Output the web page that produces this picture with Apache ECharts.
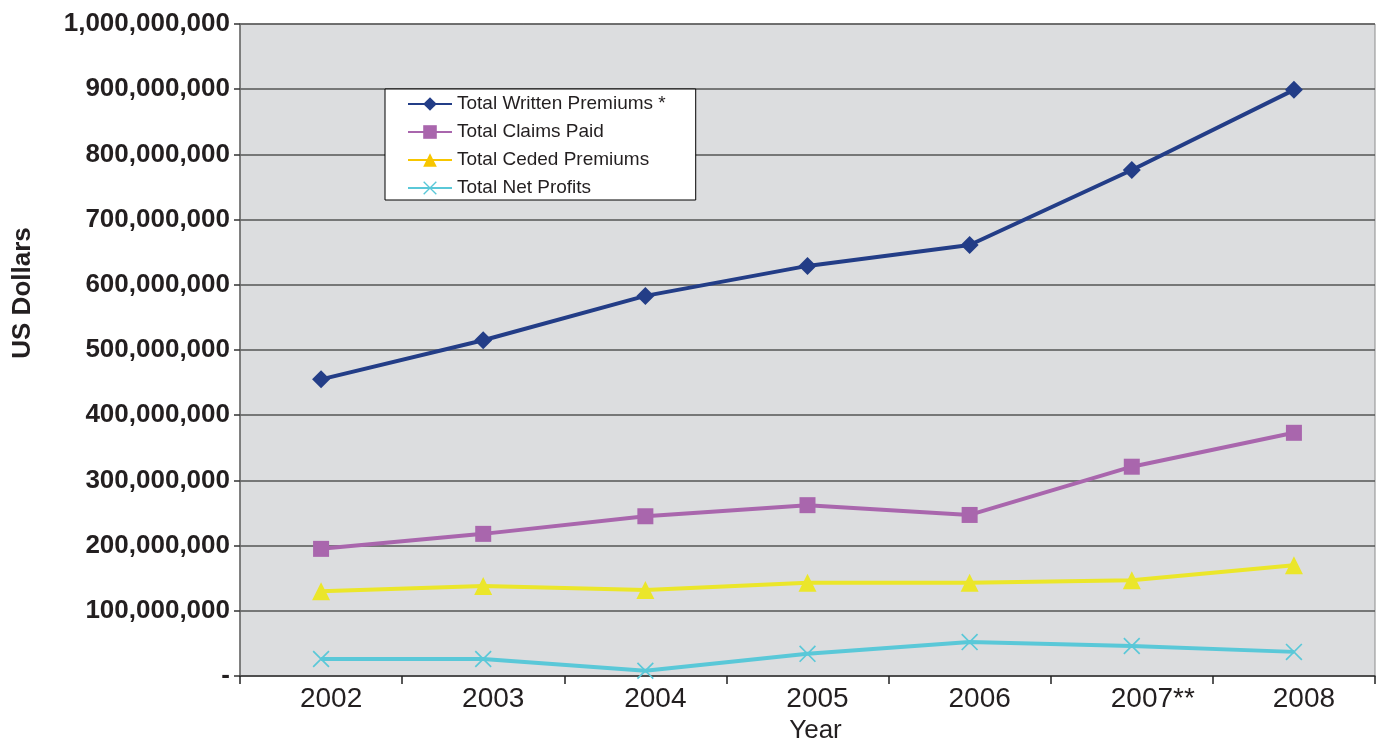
<!DOCTYPE html>
<html>
<head>
<meta charset="utf-8">
<script src="https://cdn.jsdelivr.net/npm/echarts@6/dist/echarts.min.js"></script>
<style>
  html, body { margin: 0; padding: 0; background: #ffffff; }
  #chart { width: 1378px; height: 745px; }
</style>
</head>
<body>
<div id="chart"></div>
<script>
// Years on the horizontal axis
const years = ['2002', '2003', '2004', '2005', '2006', '2007**', '2008'];

// Annual totals in US dollars
const writtenPremiums = [455000000, 515000000, 583000000, 629000000, 661000000, 776000000, 899000000];
const claimsPaid      = [195000000, 218000000, 245000000, 262000000, 247000000, 321000000, 373000000];
const cededPremiums   = [130000000, 138000000, 132000000, 143000000, 143000000, 147000000, 170000000];
const netProfits      = [26000000, 26000000, 8000000, 34000000, 52000000, 46000000, 37000000];

const seriesNames = ['Total Written Premiums *', 'Total Claims Paid', 'Total Ceded Premiums', 'Total Net Profits'];

const FONT = '"Liberation Sans", Arial, Helvetica, sans-serif';
const TEXT = '#231f20';

// thin diagonal cross used for the net profit points
const crossPath = 'path://M0,1.4L1.4,0L20,18.6L18.6,20Z M18.6,0L20,1.4L1.4,20L0,18.6Z';

function money(v) {
  if (v === 0) return '-';
  return Math.round(v).toString().replace(/\B(?=(\d{3})+(?!\d))/g, ',');
}

// year labels sit slightly right of the category centre, starred ones keep the digits in place
function yearLabel(v) {
  return v.indexOf('*') >= 0 ? '{wide|' + v + '}' : '{yr|' + v + '}';
}

function lineSeries(name, data, color, symbol, size) {
  return {
    name: name,
    type: 'line',
    data: data,
    symbol: symbol,
    symbolSize: size,
    showSymbol: true,
    lineStyle: { color: color, width: 4 },
    itemStyle: { color: color, borderWidth: 0 },
    emphasis: { disabled: true },
    z: 3
  };
}

const chart = echarts.init(document.getElementById('chart'), null, { renderer: 'canvas' });

chart.setOption({
  animation: false,
  backgroundColor: '#ffffff',
  grid: {
    left: 240, right: 3, top: 24, bottom: 69,
    outerBoundsMode: 'none',
    containLabel: false,
    show: true,
    backgroundColor: '#dcdddf',
    borderColor: '#8c8c8c',
    borderWidth: 1
  },
  legend: {
    left: 385, top: 89,
    orient: 'vertical',
    backgroundColor: '#ffffff',
    borderColor: '#000000',
    borderWidth: 1,
    borderRadius: 0,
    padding: [5, 30, 2, 22],
    itemGap: 8,
    itemWidth: 44,
    itemHeight: 17,
    textStyle: { fontFamily: FONT, fontSize: 19, lineHeight: 20, color: TEXT },
    data: [
      { name: seriesNames[0] },
      { name: seriesNames[1] },
      { name: seriesNames[2], itemStyle: { color: '#f7c600' }, lineStyle: { color: '#f7c600' } },
      { name: seriesNames[3] }
    ]
  },
  xAxis: {
    type: 'category',
    data: years,
    boundaryGap: true,
    name: 'Year',
    nameLocation: 'middle',
    nameGap: 41,
    nameTextStyle: { fontFamily: FONT, fontSize: 26, color: TEXT, padding: [0, 0, 0, 16] },
    axisLine: { show: true, lineStyle: { color: '#444444', width: 1.5 } },
    axisTick: { show: true, interval: 0, length: 8, lineStyle: { color: '#222222', width: 1.5 } },
    axisLabel: {
      color: TEXT, margin: 9,
      formatter: yearLabel,
      rich: {
        yr: { fontFamily: FONT, fontSize: 28, color: TEXT, padding: [0, 0, 0, 20] },
        wide: { fontFamily: FONT, fontSize: 28, color: TEXT, padding: [0, 0, 0, 42] }
      }
    },
    splitLine: { show: false }
  },
  yAxis: {
    type: 'value',
    min: 0,
    max: 1000000000,
    interval: 100000000,
    name: 'US Dollars',
    nameLocation: 'middle',
    nameGap: 204,
    nameRotate: 90,
    nameTextStyle: { fontFamily: FONT, fontSize: 26, fontWeight: 'bold', color: TEXT, padding: [0, 0, 0, 114] },
    axisLine: { show: true, lineStyle: { color: '#6a6a6a', width: 1.5 } },
    axisTick: { show: true, length: 6, inside: false, lineStyle: { color: '#333333', width: 1.5 } },
    axisLabel: {
      fontFamily: FONT, fontSize: 26, fontWeight: 'bold', color: TEXT, margin: 10,
      formatter: money
    },
    splitLine: { show: true, lineStyle: { color: '#555555', width: 1.5 } }
  },
  series: [
    lineSeries(seriesNames[0], writtenPremiums, '#233d87', 'diamond', 18),
    lineSeries(seriesNames[1], claimsPaid, '#a966ad', 'rect', 16),
    lineSeries(seriesNames[2], cededPremiums, '#ebe62a', 'triangle', 18),
    lineSeries(seriesNames[3], netProfits, '#5ac8d8', crossPath, 17)
  ]
});
</script>
</body>
</html>
